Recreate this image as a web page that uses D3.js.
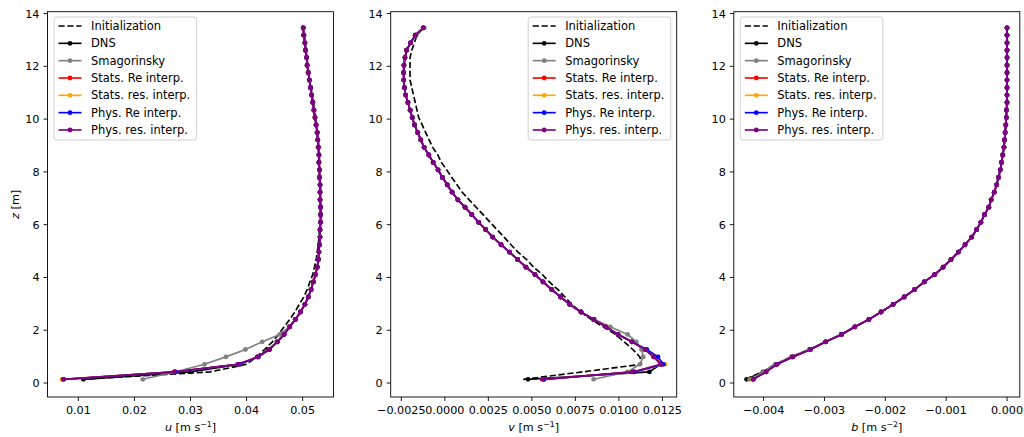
<!DOCTYPE html>
<html><head><meta charset="utf-8">
<script src="https://cdn.jsdelivr.net/npm/d3@7"></script>
<style>body{margin:0;background:#fff}svg{display:block;font-family:"DejaVu Sans",sans-serif}</style>
</head><body><svg id="c" width="1024" height="437"></svg>
<script>
// ---------------- data ----------------
const zLevels = [0.14,0.42,0.71,0.99,1.27,1.56,1.84,2.13,2.41,2.69,2.98,3.26,3.54,3.83,4.11,4.39,4.68,4.96,5.24,5.53,5.81,6.09,6.38,6.66,6.94,7.23,7.51,7.79,8.08,8.36,8.64,8.93,9.21,9.49,9.78,10.06,10.34,10.63,10.91,11.19,11.48,11.76,12.04,12.33,12.61,12.89,13.18,13.46];

// u profiles
const uInit = [0.0105,0.0335,0.0400,0.0418,0.0432,0.0446,0.0457,0.0467,0.0477,0.0486,0.0494,0.0502,0.0508,0.0513,0.0518,0.0521,0.0524,0.0526,0.0528,0.0529,0.0530,0.0531,0.0531,0.0532,0.0532,0.0532,0.0532,0.0531,0.0531,0.0530,0.0530,0.0529,0.0528,0.0527,0.0525,0.0523,0.0521,0.0519,0.0517,0.0515,0.0513,0.0511,0.0509,0.0508,0.0506,0.0505,0.0503,0.0501];
const uDNS = [0.0109,0.0300,0.0389,0.0419,0.0439,0.0454,0.0466,0.0476,0.0487,0.0496,0.0504,0.0510,0.0515,0.0519,0.0523,0.0526,0.0528,0.0529,0.0530,0.0531,0.0531,0.0532,0.0532,0.0532,0.0531,0.0531,0.0531,0.0530,0.0530,0.0529,0.0529,0.0528,0.0527,0.0526,0.0524,0.0522,0.0520,0.0518,0.0516,0.0514,0.0512,0.0510,0.0508,0.0507,0.0505,0.0504,0.0502,0.0501];
const uSmag = [0.0215,0.0272,0.0325,0.0363,0.0398,0.0428,0.0459,0.0476,0.0487,0.0496,0.0504,0.0510,0.0515,0.0519,0.0523,0.0526,0.0528,0.0529,0.0530,0.0531,0.0531,0.0532,0.0532,0.0532,0.0531,0.0531,0.0531,0.0530,0.0530,0.0529,0.0529,0.0528,0.0527,0.0526,0.0524,0.0522,0.0520,0.0518,0.0516,0.0514,0.0512,0.0510,0.0508,0.0507,0.0505,0.0504,0.0502,0.0501];
const uStatsRe = [0.0073,0.0271,0.0385,0.0420,0.0440,0.0455,0.0467,0.0477,0.0487,0.0496,0.0504,0.0510,0.0515,0.0519,0.0523,0.0526,0.0528,0.0529,0.0530,0.0531,0.0531,0.0532,0.0532,0.0532,0.0531,0.0531,0.0531,0.0530,0.0530,0.0529,0.0529,0.0528,0.0527,0.0526,0.0524,0.0522,0.0520,0.0518,0.0516,0.0514,0.0512,0.0510,0.0508,0.0507,0.0505,0.0504,0.0502,0.0501];
const uStatsRes = [0.0071,0.0270,0.0387,0.0421,0.0441,0.0455,0.0467,0.0477,0.0487,0.0496,0.0504,0.0510,0.0515,0.0519,0.0523,0.0526,0.0528,0.0529,0.0530,0.0531,0.0531,0.0532,0.0532,0.0532,0.0531,0.0531,0.0531,0.0530,0.0530,0.0529,0.0529,0.0528,0.0527,0.0526,0.0524,0.0522,0.0520,0.0518,0.0516,0.0514,0.0512,0.0510,0.0508,0.0507,0.0505,0.0504,0.0502,0.0501];
const uPhysRe = [0.0074,0.0273,0.0386,0.0421,0.0441,0.0455,0.0467,0.0477,0.0487,0.0496,0.0504,0.0510,0.0515,0.0519,0.0523,0.0526,0.0528,0.0529,0.0530,0.0531,0.0531,0.0532,0.0532,0.0532,0.0531,0.0531,0.0531,0.0530,0.0530,0.0529,0.0529,0.0528,0.0527,0.0526,0.0524,0.0522,0.0520,0.0518,0.0516,0.0514,0.0512,0.0510,0.0508,0.0507,0.0505,0.0504,0.0502,0.0501];
const uPhysRes = [0.0073,0.0271,0.0384,0.0420,0.0440,0.0455,0.0467,0.0477,0.0487,0.0496,0.0504,0.0510,0.0515,0.0519,0.0523,0.0526,0.0528,0.0529,0.0530,0.0531,0.0531,0.0532,0.0532,0.0532,0.0531,0.0531,0.0531,0.0530,0.0530,0.0529,0.0529,0.0528,0.0527,0.0526,0.0524,0.0522,0.0520,0.0518,0.0516,0.0514,0.0512,0.0510,0.0508,0.0507,0.0505,0.0504,0.0502,0.0501];

// v profiles
const vInit = [0.0045,0.0079,0.0113,0.0112,0.0108,0.0103,0.0098,0.0091,0.0084,0.0078,0.0073,0.0069,0.0065,0.0060,0.0056,0.0051,0.0047,0.0042,0.0038,0.0034,0.0030,0.0026,0.0022,0.0018,0.0014,0.0010,0.0007,0.0004,0.0001,-0.0002,-0.0004,-0.0007,-0.0009,-0.0011,-0.0013,-0.0015,-0.0016,-0.0017,-0.0018,-0.0019,-0.0020,-0.0020,-0.0020,-0.0020,-0.0019,-0.00175,-0.0016,-0.00124];
const vDNS = [0.00478,0.01175,0.0124,0.0120,0.0115,0.01075,0.00995,0.00925,0.00855,0.00782,0.00717,0.00665,0.00614,0.00564,0.00518,0.00466,0.00418,0.00371,0.00323,0.00275,0.00235,0.00194,0.00155,0.00116,0.00075,0.00042,0.00014,-0.00014,-0.00039,-0.00067,-0.00092,-0.00119,-0.00138,-0.00156,-0.00174,-0.00187,-0.00199,-0.00212,-0.00225,-0.00232,-0.00236,-0.00237,-0.00235,-0.00229,-0.00220,-0.00197,-0.00170,-0.00124];
const vSmag = [0.00855,0.0105,0.0112,0.0114,0.0113,0.0110,0.0105,0.0095,0.0086,0.00785,0.00717,0.00665,0.00614,0.00564,0.00518,0.00466,0.00418,0.00371,0.00323,0.00275,0.00235,0.00194,0.00155,0.00116,0.00075,0.00042,0.00014,-0.00014,-0.00039,-0.00067,-0.00092,-0.00119,-0.00138,-0.00156,-0.00174,-0.00187,-0.00199,-0.00212,-0.00225,-0.00232,-0.00236,-0.00237,-0.00235,-0.00229,-0.00218,-0.00195,-0.00165,-0.00118];
const vStatsRe = [0.0057,0.0108,0.01245,0.0121,0.0115,0.01075,0.00995,0.00925,0.00855,0.00782,0.00717,0.00665,0.00614,0.00564,0.00518,0.00466,0.00418,0.00371,0.00323,0.00275,0.00235,0.00194,0.00155,0.00116,0.00075,0.00042,0.00014,-0.00014,-0.00039,-0.00067,-0.00092,-0.00119,-0.00138,-0.00156,-0.00174,-0.00187,-0.00199,-0.00212,-0.00225,-0.00232,-0.00236,-0.00237,-0.00235,-0.00229,-0.00220,-0.00197,-0.00170,-0.00124];
const vStatsRes = [0.0056,0.0109,0.01265,0.0121,0.0115,0.01075,0.00995,0.00925,0.00855,0.00782,0.00717,0.00665,0.00614,0.00564,0.00518,0.00466,0.00418,0.00371,0.00323,0.00275,0.00235,0.00194,0.00155,0.00116,0.00075,0.00042,0.00014,-0.00014,-0.00039,-0.00067,-0.00092,-0.00119,-0.00138,-0.00156,-0.00174,-0.00187,-0.00199,-0.00212,-0.00225,-0.00232,-0.00236,-0.00237,-0.00235,-0.00229,-0.00220,-0.00197,-0.00170,-0.00124];
const vPhysRe = [0.0057,0.0109,0.01255,0.01225,0.0116,0.01075,0.00995,0.00925,0.00855,0.00782,0.00717,0.00665,0.00614,0.00564,0.00518,0.00466,0.00418,0.00371,0.00323,0.00275,0.00235,0.00194,0.00155,0.00116,0.00075,0.00042,0.00014,-0.00014,-0.00039,-0.00067,-0.00092,-0.00119,-0.00138,-0.00156,-0.00174,-0.00187,-0.00199,-0.00212,-0.00225,-0.00232,-0.00236,-0.00237,-0.00235,-0.00229,-0.00220,-0.00197,-0.00170,-0.00124];
const vPhysRes = [0.0056,0.0108,0.0124,0.0120,0.0115,0.01075,0.00995,0.00925,0.00855,0.00782,0.00717,0.00665,0.00614,0.00564,0.00518,0.00466,0.00418,0.00371,0.00323,0.00275,0.00235,0.00194,0.00155,0.00116,0.00075,0.00042,0.00014,-0.00014,-0.00039,-0.00067,-0.00092,-0.00119,-0.00138,-0.00156,-0.00174,-0.00187,-0.00199,-0.00212,-0.00225,-0.00232,-0.00236,-0.00237,-0.00235,-0.00229,-0.00220,-0.00197,-0.00170,-0.00124];

// b profiles
const bInit = [-0.00430,-0.00402,-0.00381,-0.00355,-0.00325,-0.00298,-0.00272,-0.00250,-0.00227,-0.00207,-0.00187,-0.00169,-0.00152,-0.00136,-0.00119,-0.00105,-0.00092,-0.00080,-0.00069,-0.00058,-0.00050,-0.00043,-0.00037,-0.00030,-0.00026,-0.00021,-0.00017,-0.00014,-0.00011,-0.00009,-0.00007,-0.00005,-0.00004,-0.00003,-0.00002,-0.00001,-0.00001,0,0,0,0,0,0,0,0,0,0,0];
const bDNS = [-0.00428,-0.00401,-0.00380,-0.00354,-0.00324,-0.00298,-0.00272,-0.00250,-0.00227,-0.00207,-0.00187,-0.00169,-0.00152,-0.00136,-0.00119,-0.00105,-0.00092,-0.00080,-0.00069,-0.00058,-0.00050,-0.00043,-0.00037,-0.00030,-0.00026,-0.00021,-0.00017,-0.00014,-0.00011,-0.00009,-0.00007,-0.00005,-0.00004,-0.00003,-0.00002,-0.00001,-0.00001,0,0,0,0,0,0,0,0,0,0,0];
const bSmag = [-0.00423,-0.00400,-0.00381,-0.00355,-0.00325,-0.00298,-0.00272,-0.00250,-0.00227,-0.00207,-0.00187,-0.00169,-0.00152,-0.00136,-0.00119,-0.00105,-0.00092,-0.00080,-0.00069,-0.00058,-0.00050,-0.00043,-0.00037,-0.00030,-0.00026,-0.00021,-0.00017,-0.00014,-0.00011,-0.00009,-0.00007,-0.00005,-0.00004,-0.00003,-0.00002,-0.00001,-0.00001,0,0,0,0,0,0,0,0,0,0,0];
const bStatsRe = [-0.00417,-0.00396,-0.00378,-0.00352,-0.00323,-0.00298,-0.00272,-0.00250,-0.00227,-0.00207,-0.00187,-0.00169,-0.00152,-0.00136,-0.00119,-0.00105,-0.00092,-0.00080,-0.00069,-0.00058,-0.00050,-0.00043,-0.00037,-0.00030,-0.00026,-0.00021,-0.00017,-0.00014,-0.00011,-0.00009,-0.00007,-0.00005,-0.00004,-0.00003,-0.00002,-0.00001,-0.00001,0,0,0,0,0,0,0,0,0,0,0];
const bStatsRes = [-0.00418,-0.00396,-0.00378,-0.00352,-0.00323,-0.00298,-0.00272,-0.00250,-0.00227,-0.00207,-0.00187,-0.00169,-0.00152,-0.00136,-0.00119,-0.00105,-0.00092,-0.00080,-0.00069,-0.00058,-0.00050,-0.00043,-0.00037,-0.00030,-0.00026,-0.00021,-0.00017,-0.00014,-0.00011,-0.00009,-0.00007,-0.00005,-0.00004,-0.00003,-0.00002,-0.00001,-0.00001,0,0,0,0,0,0,0,0,0,0,0];
const bPhysRe = [-0.00417,-0.00396,-0.00378,-0.00352,-0.00323,-0.00298,-0.00272,-0.00250,-0.00227,-0.00207,-0.00187,-0.00169,-0.00152,-0.00136,-0.00119,-0.00105,-0.00092,-0.00080,-0.00069,-0.00058,-0.00050,-0.00043,-0.00037,-0.00030,-0.00026,-0.00021,-0.00017,-0.00014,-0.00011,-0.00009,-0.00007,-0.00005,-0.00004,-0.00003,-0.00002,-0.00001,-0.00001,0,0,0,0,0,0,0,0,0,0,0];
const bPhysRes = [-0.00417,-0.00396,-0.00378,-0.00352,-0.00323,-0.00298,-0.00272,-0.00250,-0.00227,-0.00207,-0.00187,-0.00169,-0.00152,-0.00136,-0.00119,-0.00105,-0.00092,-0.00080,-0.00069,-0.00058,-0.00050,-0.00043,-0.00037,-0.00030,-0.00026,-0.00021,-0.00017,-0.00014,-0.00011,-0.00009,-0.00007,-0.00005,-0.00004,-0.00003,-0.00002,-0.00001,-0.00001,0,0,0,0,0,0,0,0,0,0,0];

const seriesNames = ["Initialization","DNS","Smagorinsky","Stats. Re interp.","Stats. res. interp.","Phys. Re interp.","Phys. res. interp."];
const seriesColors = ["#000000","#000000","#808080","#ff0000","#ffa500","#0000ff","#800080"];

const zTicks = [0,2,4,6,8,10,12,14];
const zTickLabels = ["0","2","4","6","8","10","12","14"];
const uTicks = [0.01,0.02,0.03,0.04,0.05];
const uTickLabels = ["0.01","0.02","0.03","0.04","0.05"];
const vTicks = [-0.0025,0,0.0025,0.005,0.0075,0.01,0.0125];
const vTickLabels = ["\u22120.0025","0.0000","0.0025","0.0050","0.0075","0.0100","0.0125"];
const bTicks = [-0.004,-0.003,-0.002,-0.001,0];
const bTickLabels = ["\u22120.004","\u22120.003","\u22120.002","\u22120.001","0.000"];

// ---------------- layout ----------------
const svg = d3.select("#c");
const TOP = 11.7, BOTTOM = 397, PW = 286;
const FS = 11.2, LFS = 11.5;
const y = d3.scaleLinear().domain([-0.53, 14.07]).range([BOTTOM, TOP]);

const panels = [
  {left: 47.5, domain: [0.0045, 0.0555], ticks: uTicks, labels: uTickLabels, sym: "u", exp: "\u22121",
   data: [uInit,uDNS,uSmag,uStatsRe,uStatsRes,uPhysRe,uPhysRes], legend: "left", ylabel: true},
  {left: 390.7, domain: [-0.00311, 0.01332], ticks: vTicks, labels: vTickLabels, sym: "v", exp: "\u22121",
   data: [vInit,vDNS,vSmag,vStatsRe,vStatsRes,vPhysRe,vPhysRes], legend: "right", ylabel: false},
  {left: 733.8, domain: [-0.00449, 0.00021], ticks: bTicks, labels: bTickLabels, sym: "b", exp: "\u22122",
   data: [bInit,bDNS,bSmag,bStatsRe,bStatsRes,bPhysRe,bPhysRes], legend: "left", ylabel: false}
];

panels.forEach(p => {
  const x = d3.scaleLinear().domain(p.domain).range([p.left, p.left + PW]);
  const g = svg.append("g");

  // series
  p.data.forEach((vals, si) => {
    const pts = vals.map((v, i) => [v, zLevels[i]]);
    const line = d3.line().x(d => x(d[0])).y(d => y(d[1]));
    g.append("path").attr("d", line(pts))
      .attr("fill", "none").attr("stroke", seriesColors[si])
      .attr("stroke-width", 1.65).attr("stroke-linejoin", "round")
      .attr("stroke-dasharray", si === 0 ? "6.2,2.7" : null);
    if (si > 0) {
      g.selectAll(null).data(pts).enter().append("circle")
        .attr("cx", d => x(d[0])).attr("cy", d => y(d[1])).attr("r", 2.4)
        .attr("fill", seriesColors[si]);
    }
  });

  // frame
  g.append("rect").attr("x", p.left).attr("y", TOP).attr("width", PW).attr("height", BOTTOM - TOP)
    .attr("fill", "none").attr("stroke", "#000").attr("stroke-width", 0.9);

  // x ticks
  p.ticks.forEach((t, i) => {
    const xx = x(t);
    g.append("line").attr("x1", xx).attr("x2", xx).attr("y1", BOTTOM).attr("y2", BOTTOM + 4)
      .attr("stroke", "#000").attr("stroke-width", 0.9);
    g.append("text").attr("x", xx).attr("y", BOTTOM + 17).attr("text-anchor", "middle")
      .attr("font-size", FS).attr("fill", "#000").text(p.labels[i]);
  });
  // y ticks
  zTicks.forEach((t, i) => {
    const yy = y(t);
    g.append("line").attr("x1", p.left - 4).attr("x2", p.left).attr("y1", yy).attr("y2", yy)
      .attr("stroke", "#000").attr("stroke-width", 0.9);
    g.append("text").attr("x", p.left - 8).attr("y", yy).attr("dy", "0.36em").attr("text-anchor", "end")
      .attr("font-size", FS).attr("fill", "#000").text(zTickLabels[i]);
  });

  // x label
  const xl = g.append("text").attr("x", p.left + PW / 2).attr("y", 431).attr("text-anchor", "middle")
    .attr("font-size", FS).attr("fill", "#000");
  xl.append("tspan").attr("font-style", "italic").text(p.sym);
  xl.append("tspan").text(" [m s");
  xl.append("tspan").attr("dy", -4.5).attr("font-size", 7.8).text(p.exp);
  xl.append("tspan").attr("dy", 4.5).text("]");

  if (p.ylabel) {
    const yl = g.append("text").attr("transform", `translate(18.5,${(TOP + BOTTOM) / 2}) rotate(-90)`)
      .attr("text-anchor", "middle").attr("font-size", FS).attr("fill", "#000");
    yl.append("tspan").attr("font-style", "italic").text("z");
    yl.append("tspan").text(" [m]");
  }

  // legend
  const LW = 142.5, LH = 123;
  const lx = p.legend === "left" ? p.left + 6.5 : p.left + PW - 6 - LW;
  const ly = 17;
  const lg = svg.append("g");
  lg.append("rect").attr("x", lx).attr("y", ly).attr("width", LW).attr("height", LH)
    .attr("rx", 2.5).attr("fill", "#fff").attr("fill-opacity", 0.8)
    .attr("stroke", "#cccccc").attr("stroke-width", 0.9);
  seriesNames.forEach((name, si) => {
    const ry = ly + 9 + si * 17.33;
    lg.append("line").attr("x1", lx + 4.5).attr("x2", lx + 27.5).attr("y1", ry).attr("y2", ry)
      .attr("stroke", seriesColors[si]).attr("stroke-width", 1.65)
      .attr("stroke-dasharray", si === 0 ? "6.2,2.7" : null);
    if (si > 0) lg.append("circle").attr("cx", lx + 16).attr("cy", ry).attr("r", 2.4).attr("fill", seriesColors[si]);
    lg.append("text").attr("x", lx + 37).attr("y", ry).attr("dy", "0.36em")
      .attr("font-size", LFS).attr("fill", "#000").text(name);
  });
});
</script>
</body></html>
